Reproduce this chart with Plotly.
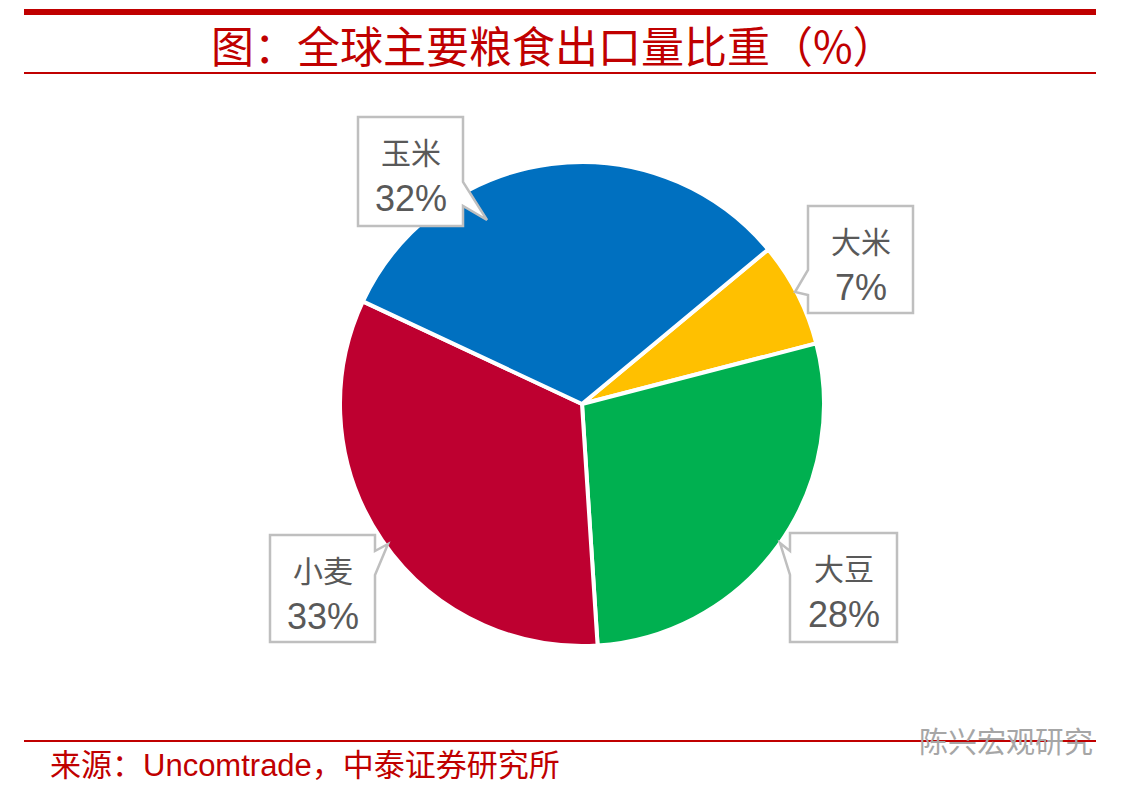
import plotly.graph_objects as go

# ── DATA ─────────────────────────────
crops = ["大米", "大豆", "小麦", "玉米"]
shares = [7, 28, 33, 32]
colors = ["#FFC000", "#00B050", "#BE0030", "#0070C0"]

TITLE = "图：全球主要粮食出口量比重（%）"
SOURCE = "来源：Uncomtrade，中泰证券研究所"
WATERMARK = "陈兴宏观研究"
# ─────────────────────────────────────

# the page body has an 8px margin, so the figure is drawn 8px in from the corner
OFF = 8
W, H = 1128 - OFF, 789 - OFF
RED = "#C00000"
GREY_TXT = "#595959"
BOX_LINE = "#BFBFBF"
CJK = "Noto Sans CJK SC"
LATIN = "Liberation Sans, Arial, sans-serif"


def px(x):
    return (x - OFF) / W


def py(y):
    return 1 - (y - OFF) / H


# callout boxes in screen pixels: left, top, right, bottom, notch side, notch start/end, tip
callouts = {
    "玉米": dict(box=(358, 117, 463, 226), side="right", n0=182, n1=206, tip=(487, 220)),
    "大米": dict(box=(808, 206, 913, 313), side="left", n0=270, n1=295, tip=(795, 292)),
    "小麦": dict(box=(270, 535, 375, 642), side="right", n0=551, n1=575, tip=(388, 544)),
    "大豆": dict(box=(790, 533, 897, 642), side="left", n0=551, n1=575, tip=(780, 543)),
}


def callout_path(c):
    l, t, r, b = c["box"]
    tx, ty = c["tip"]
    pts = [(l, t), (r, t)]
    if c["side"] == "right":
        pts += [(r, c["n0"]), (tx, ty), (r, c["n1"]), (r, b), (l, b)]
    else:
        pts += [(r, b), (l, b), (l, c["n1"]), (tx, ty), (l, c["n0"])]
    return "M " + " L ".join(f"{px(x):.5f},{py(y):.5f}" for x, y in pts) + " Z"


fig = go.Figure()

# pie, centre (582,404) radius ~240
fig.add_trace(go.Pie(
    labels=crops,
    values=shares,
    sort=False,
    direction="clockwise",
    rotation=50.3,
    marker=dict(colors=colors, line=dict(color="white", width=4)),
    textinfo="none",
    hoverinfo="label+percent",
    showlegend=False,
    domain=dict(x=[px(340), px(824)], y=[py(646), py(162)]),
))

shapes = []
annotations = []

# header / footer rules
shapes.append(dict(type="rect", xref="paper", yref="paper",
                   x0=px(24), x1=px(1096), y0=py(15), y1=py(9),
                   fillcolor=RED, line=dict(width=0)))
shapes.append(dict(type="line", xref="paper", yref="paper",
                   x0=px(24), x1=px(1096), y0=py(73), y1=py(73),
                   line=dict(color=RED, width=2)))
shapes.append(dict(type="line", xref="paper", yref="paper",
                   x0=px(24), x1=px(1096), y0=py(741), y1=py(741),
                   line=dict(color=RED, width=2)))

# callouts
for name, val in zip(crops, shares):
    c = callouts[name]
    shapes.append(dict(type="path", xref="paper", yref="paper",
                       path=callout_path(c), fillcolor="white",
                       line=dict(color=BOX_LINE, width=2.5)))
    l, t, r, b = c["box"]
    cx = (l + r) / 2
    annotations.append(dict(x=px(cx), y=py(t + 34), xref="paper", yref="paper",
                            xanchor="center", yanchor="middle",
                            text=name, showarrow=False,
                            font=dict(family=CJK, size=30, color=GREY_TXT)))
    annotations.append(dict(x=px(cx), y=py(t + 81), xref="paper", yref="paper",
                            xanchor="center", yanchor="middle",
                            text=f"{val}%", showarrow=False,
                            font=dict(family=LATIN, size=36, color=GREY_TXT)))

# title
annotations.append(dict(x=px(553), y=py(44), xref="paper", yref="paper",
                        xanchor="center", yanchor="middle",
                        text=TITLE, showarrow=False,
                        font=dict(family=CJK, size=43, color=RED)))

# source
annotations.append(dict(x=px(48), y=py(765), xref="paper", yref="paper",
                        xanchor="left", yanchor="middle",
                        text=SOURCE, showarrow=False,
                        font=dict(family=LATIN + ", " + CJK, size=31, color=RED)))

# watermark
annotations.append(dict(x=px(1095), y=py(740), xref="paper", yref="paper",
                        xanchor="right", yanchor="middle",
                        text=WATERMARK, showarrow=False,
                        font=dict(family=CJK, size=29, color="#A6A6A6")))

fig.update_layout(
    width=W, height=H,
    margin=dict(l=0, r=0, t=0, b=0),
    paper_bgcolor="white",
    plot_bgcolor="white",
    shapes=shapes,
    annotations=annotations,
)

fig.write_html("out.html")
